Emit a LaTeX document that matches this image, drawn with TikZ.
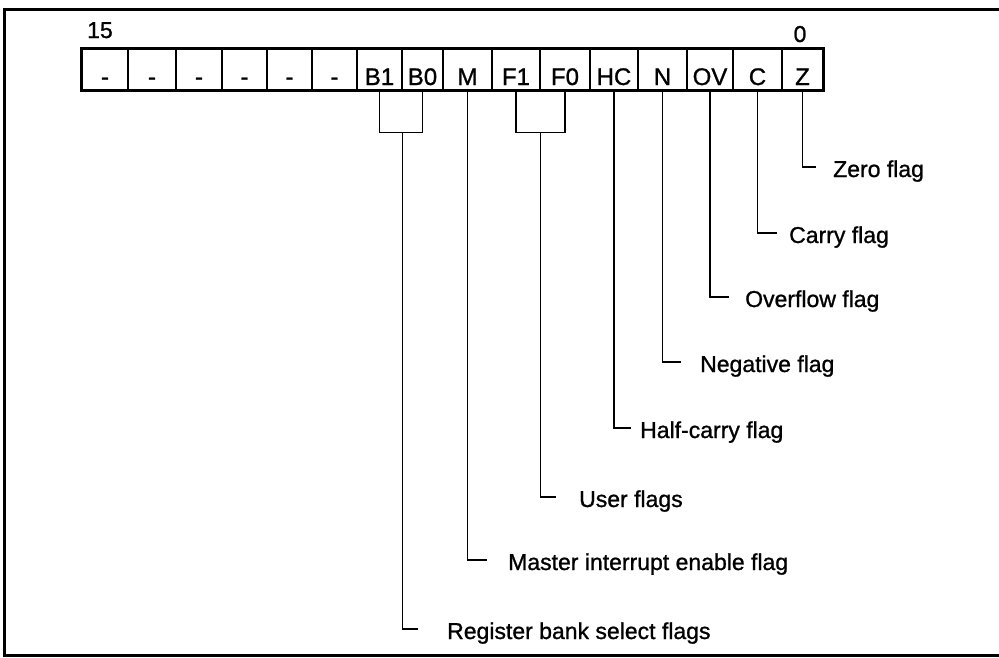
\documentclass[tikz,border=0pt]{standalone}
\usepackage{fontspec}
\setmainfont{Liberation Sans}
\newfontfamily\medfont[FakeBold=1]{Liberation Sans}
\usetikzlibrary{calc}
\begin{document}
\begin{tikzpicture}[x=1pt,y=-1pt,
  cell/.style={draw,line width=1.1pt,inner sep=0pt,minimum height=41pt,
    text height=36pt,text depth=5pt,font=\medfont\fontsize{24}{27}\selectfont},
  flaglabel/.style={anchor=base west,inner sep=0pt,font=\medfont\fontsize{23}{27}\selectfont},
  conn/.style={line width=1.1pt}]
  \useasboundingbox (0,0) rectangle (999,657);
  \draw[line width=3pt] (4,9) rectangle (1010,655);
  % register cells, bit 15 down to bit 0
  \foreach \b/\l/\r/\t in {15/82/128/-, 14/128/176/-, 13/176/222/-, 12/222/267/-,
      11/267/312/-, 10/312/357/-, 9/357/402/B1, 8/402/443/B0, 7/443/492/M,
      6/492/540/F1, 5/540/590/F0, 4/590/638/HC, 3/638/687/N, 2/687/733/OV,
      1/733/782/C, 0/782/823/Z}
    \node[cell,minimum width=\r-\l] (bit\b) at ({(\l+\r)/2},69.5) {\t};
  \draw[line width=2.6pt] (bit15.north west) rectangle (bit0.south east);
  \node[flaglabel] (n15) at (87,38) {15};
  \node[flaglabel,anchor=base] (n0) at (800,42) {0};
  % brackets for the two-bit fields
  \coordinate (bsel) at ($(bit9.south east)+(0,42)$);
  \coordinate (usel) at ($(bit6.south east)+(0,42)$);
  \draw[conn] (bit9.south) |- (bsel) -| (bit8.south);
  \draw[conn] (bit6.south) |- (usel) -| (bit5.south);
  % flag names
  \foreach \n/\f/\tx/\y/\lx/\t in {z/bit0.south/816/167/833/Zero flag,
      c/bit1.south/777/233/789/Carry flag,
      ov/bit2.south/729/297/745/Overflow flag,
      neg/bit3.south/681/362/700/Negative flag,
      hc/bit4.south/631/428/640/Half-carry flag,
      usr/usel/556/497/579/User flags,
      mie/bit7.south/487/560/508/Master interrupt enable flag,
      rb/bsel/418/629/447/Register bank select flags} {
    \coordinate (t\n) at (\tx,\y);
    \node[flaglabel] (l\n) at (\lx,\y+10) {\t};
    \draw[conn] (\f) |- (t\n);
  }
\end{tikzpicture}
\end{document}
